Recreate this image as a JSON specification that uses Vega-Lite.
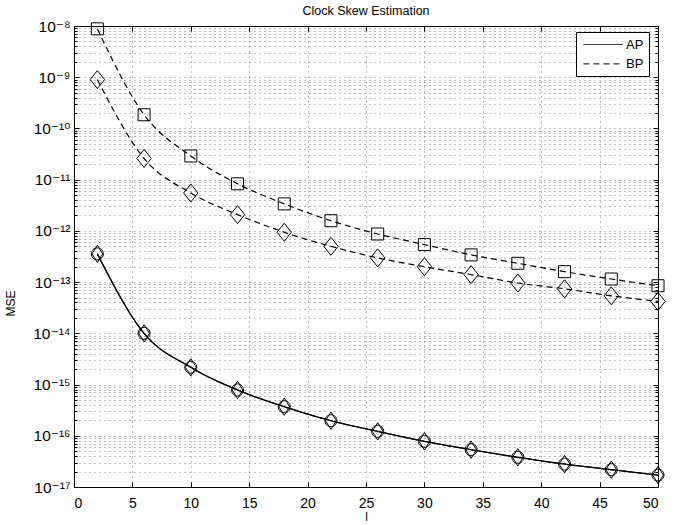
{
  "$schema": "https://vega.github.io/schema/vega-lite/v6.json",
  "autosize": {"type": "none"},
  "padding": {"left": 74, "top": 26, "right": 23, "bottom": 38},
  "width": 584,
  "height": 461,
  "background": "white",
  "title": {"text": "Clock Skew Estimation", "fontSize": 12.5, "fontWeight": "normal", "color": "black", "font": "Liberation Sans", "frame": "group", "offset": 2},
  "config": {
    "view": {"stroke": "black", "strokeWidth": 1},
    "font": "Liberation Sans"
  },
  "data": {"values": [
    {"l": 2, "method": "AP", "series": "AP-o", "marker": "circle", "mse": 3.56e-13},
    {"l": 6, "method": "AP", "series": "AP-o", "marker": "circle", "mse": 1.0e-14},
    {"l": 10, "method": "AP", "series": "AP-o", "marker": "circle", "mse": 2.17e-15},
    {"l": 14, "method": "AP", "series": "AP-o", "marker": "circle", "mse": 7.85e-16},
    {"l": 18, "method": "AP", "series": "AP-o", "marker": "circle", "mse": 3.7e-16},
    {"l": 22, "method": "AP", "series": "AP-o", "marker": "circle", "mse": 1.97e-16},
    {"l": 26, "method": "AP", "series": "AP-o", "marker": "circle", "mse": 1.22e-16},
    {"l": 30, "method": "AP", "series": "AP-o", "marker": "circle", "mse": 7.8e-17},
    {"l": 34, "method": "AP", "series": "AP-o", "marker": "circle", "mse": 5.36e-17},
    {"l": 38, "method": "AP", "series": "AP-o", "marker": "circle", "mse": 3.8e-17},
    {"l": 42, "method": "AP", "series": "AP-o", "marker": "circle", "mse": 2.8e-17},
    {"l": 46, "method": "AP", "series": "AP-o", "marker": "circle", "mse": 2.18e-17},
    {"l": 50, "method": "AP", "series": "AP-o", "marker": "circle", "mse": 1.71e-17},
    {"l": 2, "method": "AP", "series": "AP-d", "marker": "diamond-ap", "mse": 3.56e-13},
    {"l": 6, "method": "AP", "series": "AP-d", "marker": "diamond-ap", "mse": 1.0e-14},
    {"l": 10, "method": "AP", "series": "AP-d", "marker": "diamond-ap", "mse": 2.17e-15},
    {"l": 14, "method": "AP", "series": "AP-d", "marker": "diamond-ap", "mse": 7.85e-16},
    {"l": 18, "method": "AP", "series": "AP-d", "marker": "diamond-ap", "mse": 3.7e-16},
    {"l": 22, "method": "AP", "series": "AP-d", "marker": "diamond-ap", "mse": 1.97e-16},
    {"l": 26, "method": "AP", "series": "AP-d", "marker": "diamond-ap", "mse": 1.22e-16},
    {"l": 30, "method": "AP", "series": "AP-d", "marker": "diamond-ap", "mse": 7.8e-17},
    {"l": 34, "method": "AP", "series": "AP-d", "marker": "diamond-ap", "mse": 5.36e-17},
    {"l": 38, "method": "AP", "series": "AP-d", "marker": "diamond-ap", "mse": 3.8e-17},
    {"l": 42, "method": "AP", "series": "AP-d", "marker": "diamond-ap", "mse": 2.8e-17},
    {"l": 46, "method": "AP", "series": "AP-d", "marker": "diamond-ap", "mse": 2.18e-17},
    {"l": 50, "method": "AP", "series": "AP-d", "marker": "diamond-ap", "mse": 1.71e-17},
    {"l": 2, "method": "BP", "series": "BP-s", "marker": "square", "mse": 8.8e-9},
    {"l": 6, "method": "BP", "series": "BP-s", "marker": "square", "mse": 1.85e-10},
    {"l": 10, "method": "BP", "series": "BP-s", "marker": "square", "mse": 2.9e-11},
    {"l": 14, "method": "BP", "series": "BP-s", "marker": "square", "mse": 8.3e-12},
    {"l": 18, "method": "BP", "series": "BP-s", "marker": "square", "mse": 3.37e-12},
    {"l": 22, "method": "BP", "series": "BP-s", "marker": "square", "mse": 1.58e-12},
    {"l": 26, "method": "BP", "series": "BP-s", "marker": "square", "mse": 8.7e-13},
    {"l": 30, "method": "BP", "series": "BP-s", "marker": "square", "mse": 5.4e-13},
    {"l": 34, "method": "BP", "series": "BP-s", "marker": "square", "mse": 3.4e-13},
    {"l": 38, "method": "BP", "series": "BP-s", "marker": "square", "mse": 2.33e-13},
    {"l": 42, "method": "BP", "series": "BP-s", "marker": "square", "mse": 1.6e-13},
    {"l": 46, "method": "BP", "series": "BP-s", "marker": "square", "mse": 1.15e-13},
    {"l": 50, "method": "BP", "series": "BP-s", "marker": "square", "mse": 8.5e-14},
    {"l": 2, "method": "BP", "series": "BP-d", "marker": "diamond", "mse": 9.0e-10},
    {"l": 6, "method": "BP", "series": "BP-d", "marker": "diamond", "mse": 2.6e-11},
    {"l": 10, "method": "BP", "series": "BP-d", "marker": "diamond", "mse": 5.5e-12},
    {"l": 14, "method": "BP", "series": "BP-d", "marker": "diamond", "mse": 2.08e-12},
    {"l": 18, "method": "BP", "series": "BP-d", "marker": "diamond", "mse": 9.4e-13},
    {"l": 22, "method": "BP", "series": "BP-d", "marker": "diamond", "mse": 5.0e-13},
    {"l": 26, "method": "BP", "series": "BP-d", "marker": "diamond", "mse": 2.97e-13},
    {"l": 30, "method": "BP", "series": "BP-d", "marker": "diamond", "mse": 2.0e-13},
    {"l": 34, "method": "BP", "series": "BP-d", "marker": "diamond", "mse": 1.4e-13},
    {"l": 38, "method": "BP", "series": "BP-d", "marker": "diamond", "mse": 9.6e-14},
    {"l": 42, "method": "BP", "series": "BP-d", "marker": "diamond", "mse": 7.4e-14},
    {"l": 46, "method": "BP", "series": "BP-d", "marker": "diamond", "mse": 5.4e-14},
    {"l": 50, "method": "BP", "series": "BP-d", "marker": "diamond", "mse": 4.2e-14}
  ]},
  "layer": [
    {
      "mark": {"type": "line", "color": "black", "strokeWidth": 1.2, "interpolate": "monotone", "clip": false},
      "encoding": {
        "x": {"field": "l", "type": "quantitative", "scale": {"domain": [0, 50], "nice": false, "zero": false},
          "axis": {"orient": "bottom", "values": [0, 5, 10, 15, 20, 25, 30, 35, 40, 45, 50], "title": "l",
            "grid": true, "gridDash": [1, 4], "gridColor": "#000", "gridOpacity": 0.5, "gridWidth": 1,
            "domain": true, "domainColor": "black", "ticks": true, "tickColor": "black", "tickSize": -5,
            "labelFontSize": 14, "labelColor": "black", "labelFont": "Liberation Sans", "labelPadding": 14,
            "titleFontSize": 12, "titleFontWeight": "normal", "titleColor": "black", "titleFont": "Liberation Sans", "titlePadding": 1}},
        "y": {"field": "mse", "type": "quantitative", "scale": {"type": "log", "domain": [1e-17, 1e-8], "nice": false},
          "axis": {"orient": "left", "title": "MSE",
            "values": [1e-17,2e-17,3e-17,4e-17,5e-17,6e-17,7e-17,8e-17,9e-17,1e-16,2e-16,3e-16,4e-16,5e-16,6e-16,7e-16,8e-16,9e-16,1e-15,2e-15,3e-15,4e-15,5e-15,6e-15,7e-15,8e-15,9e-15,1e-14,2e-14,3e-14,4e-14,5e-14,6e-14,7e-14,8e-14,9e-14,1e-13,2e-13,3e-13,4e-13,5e-13,6e-13,7e-13,8e-13,9e-13,1e-12,2e-12,3e-12,4e-12,5e-12,6e-12,7e-12,8e-12,9e-12,1e-11,2e-11,3e-11,4e-11,5e-11,6e-11,7e-11,8e-11,9e-11,1e-10,2e-10,3e-10,4e-10,5e-10,6e-10,7e-10,8e-10,9e-10,1e-9,2e-9,3e-9,4e-9,5e-9,6e-9,7e-9,8e-9,9e-9,1e-8],
            "labelExpr": "(abs(log(datum.value)/LN10 - round(log(datum.value)/LN10)) < 0.001) ? ('10⁻' + (round(-log(datum.value)/LN10) >= 10 ? '¹' + substring('⁰¹²³⁴⁵⁶⁷⁸⁹', round(-log(datum.value)/LN10) - 10, round(-log(datum.value)/LN10) - 9) : substring('⁰¹²³⁴⁵⁶⁷⁸⁹', round(-log(datum.value)/LN10), round(-log(datum.value)/LN10) + 1))) : ''",
            "labelOverlap": false, "labelBound": false,
            "grid": true, "gridDash": [1, 4], "gridColor": "#000", "gridOpacity": 0.5, "gridWidth": 1,
            "domain": true, "domainColor": "black", "ticks": true, "tickColor": "black",
            "tickSize": {"condition": {"test": "abs(log(datum.value)/LN10 - round(log(datum.value)/LN10)) < 0.001", "value": -5}, "value": -3},
            "labelFontSize": 15.5, "labelColor": "black", "labelFont": "Liberation Sans, DejaVu Sans", "labelPadding": 9,
            "titleFontSize": 12, "titleFontWeight": "normal", "titleColor": "black", "titleFont": "Liberation Sans",
            "titleAngle": -90, "titleX": -64, "titleY": 277, "titleAlign": "center", "titleBaseline": "middle"}},
        "strokeDash": {"field": "method", "type": "nominal",
          "scale": {"domain": ["AP", "BP"], "range": [[1, 0], [6, 4]]},
          "legend": {"orient": "none", "legendX": 502, "legendY": 6, "title": null,
            "strokeColor": "black", "fillColor": "white", "padding": 5,
            "symbolType": "M-2.8,0L2.8,0", "symbolStrokeColor": "black", "symbolStrokeWidth": 1, "symbolSize": 196,
            "symbolOffset": 14.6, "labelOffset": 15.4, "rowPadding": 4.4,
            "labelExpr": "datum.label + '  '",
            "labelFontSize": 13, "labelFont": "Liberation Sans", "labelColor": "black"}},
        "detail": {"field": "series", "type": "nominal"}
      }
    },
    {
      "mark": {"type": "point", "filled": false, "color": "black", "strokeWidth": 1, "size": 144, "opacity": 1, "clip": false},
      "encoding": {
        "x": {"field": "l", "type": "quantitative",
          "axis": {"orient": "top", "values": [0, 5, 10, 15, 20, 25, 30, 35, 40, 45, 50], "labels": false, "title": null,
            "grid": false, "domain": true, "domainColor": "black", "ticks": true, "tickColor": "black", "tickSize": -5}},
        "y": {"field": "mse", "type": "quantitative",
          "axis": {"orient": "right", "title": null, "labels": false,
            "values": [1e-17,2e-17,3e-17,4e-17,5e-17,6e-17,7e-17,8e-17,9e-17,1e-16,2e-16,3e-16,4e-16,5e-16,6e-16,7e-16,8e-16,9e-16,1e-15,2e-15,3e-15,4e-15,5e-15,6e-15,7e-15,8e-15,9e-15,1e-14,2e-14,3e-14,4e-14,5e-14,6e-14,7e-14,8e-14,9e-14,1e-13,2e-13,3e-13,4e-13,5e-13,6e-13,7e-13,8e-13,9e-13,1e-12,2e-12,3e-12,4e-12,5e-12,6e-12,7e-12,8e-12,9e-12,1e-11,2e-11,3e-11,4e-11,5e-11,6e-11,7e-11,8e-11,9e-11,1e-10,2e-10,3e-10,4e-10,5e-10,6e-10,7e-10,8e-10,9e-10,1e-9,2e-9,3e-9,4e-9,5e-9,6e-9,7e-9,8e-9,9e-9,1e-8],
            "grid": false, "domain": true, "domainColor": "black", "ticks": true, "tickColor": "black",
            "tickSize": {"condition": {"test": "abs(log(datum.value)/LN10 - round(log(datum.value)/LN10)) < 0.001", "value": -5}, "value": -3}}},
        "shape": {"field": "marker", "type": "nominal",
          "scale": {"domain": ["circle", "square", "diamond", "diamond-ap"], "range": ["M0,-1A1,1,0,1,1,0,1A1,1,0,1,1,0,-1Z", "square", "M0,-1.5L1.2,0L0,1.5L-1.2,0Z", "M0,-1.45L0.9,0L0,1.45L-0.9,0Z"]},
          "legend": null}
      }
    }
  ],
  "resolve": {"axis": {"x": "independent", "y": "independent"}}
}
